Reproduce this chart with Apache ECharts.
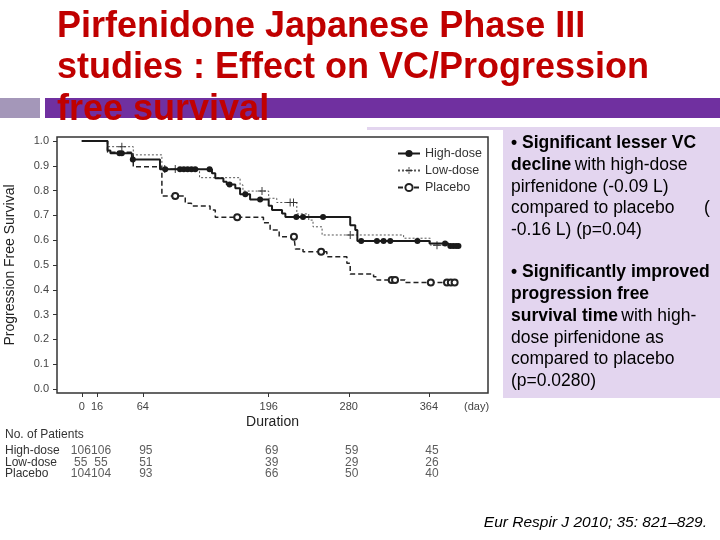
<!DOCTYPE html>
<html><head><meta charset="utf-8">
<script src="https://cdn.jsdelivr.net/npm/echarts@6/dist/echarts.min.js"></script>
<style>html,body{margin:0;padding:0;background:#fff}#c{width:720px;height:540px}</style>
</head><body><div id="c"></div>
<script>
// ---------- data ----------
const groupNames = ['High-dose', 'Low-dose', 'Placebo'];

// [day, survival after step]
const highDoseEvents = [[0,1],[27,0.962],[30,0.95],[52.5,0.925],[82,0.886],[136.5,0.87],[140,0.85],[148.5,0.836],[152,0.825],[161,0.809],[166,0.785],[176.5,0.764],[196,0.739],[199.5,0.722],[210,0.708],[213.5,0.694],[281.5,0.66],[286.8,0.641],[289,0.597],[364.7,0.587],[384.7,0.577]];
const highDoseCensored = [39.5,42,53.5,87.5,103,107,111,115,119,134,155,171.5,187,225,232,253,293,309.5,316.5,323.5,352,381,386.5,389.5,392.5,395];
const highDoseEnd = 395;

const lowDoseEvents = [[0,1],[27,0.977],[54,0.944],[84,0.887],[123.5,0.852],[166,0.823],[169,0.798],[196,0.769],[204.5,0.752],[225.5,0.706],[238,0.681],[242.5,0.654],[252,0.621],[337.5,0.608],[365.5,0.58]];
const lowDoseCensored = [42,87,98,189,218.5,222,281.5,372.5];
const lowDoseEnd = 381;

const placeboEvents = [[0,1],[27,0.955],[54,0.896],[84,0.778],[108.5,0.749],[115,0.738],[134.5,0.722],[140,0.692],[190.5,0.67],[197.5,0.641],[207,0.614],[224,0.565],[232,0.553],[257,0.533],[278,0.507],[281.5,0.464],[306,0.453],[309.5,0.44],[339,0.429]];
const placeboCensored = [98,163,222.5,251,325,328.5,366,383,387,391];
const placeboEnd = 391;

const xTickDays = [0,16,64,196,280,364];
const yTicks = [0,0.1,0.2,0.3,0.4,0.5,0.6,0.7,0.8,0.9,1.0];

const atRiskHigh = [106,106,95,69,59,45];
const atRiskLow = [55,55,51,39,29,26];
const atRiskPlacebo = [104,104,93,66,50,40];

// ---------- helpers ----------
function stepValue(events, d) {
  let v = events[0][1];
  for (const [t, s] of events) { if (t <= d) v = s; }
  return v;
}
function buildData(events, censors, endDay) {
  const pts = events.map(([t, s]) => ({ value: [t, s], symbol: 'none' }));
  censors.forEach(d => pts.push({ value: [d, stepValue(events, d)] }));
  if (!censors.includes(endDay)) pts.push({ value: [endDay, stepValue(events, endDay)], symbol: 'none' });
  pts.sort((a, b) => a.value[0] - b.value[0]);
  return pts;
}

const FONT = '"Liberation Sans", Arial, sans-serif';
const dayUnitPos = 414;
const labelNudge = [-1, 4, 3, 3, 3, 3];

const atRiskRows = [atRiskHigh, atRiskLow, atRiskPlacebo];
const atRiskData = [];
atRiskRows.forEach((row, i) => row.forEach((n, j) => {
  atRiskData.push({ value: [xTickDays[j], groupNames[i], n], label: { offset: [labelNudge[j], 0] } });
}));

const chart = echarts.init(document.getElementById('c'), null, { renderer: 'canvas' });

const richBox = {
  b: { fontWeight: 'bold', fontSize: 17.5, fontFamily: FONT, color: '#000' },
  n: { fontWeight: 'normal', fontSize: 17.5, fontFamily: FONT, color: '#000' }
};
const boxLines = [
  ['{b|• Significant lesser VC}', 143],
  ['{b|decline} {n|with high-dose}', 165],
  ['{n|pirfenidone (-0.09 L)}', 187],
  ['{n|compared to placebo}', 208],
  ['{n|-0.16 L) (p=0.04)}', 230],
  ['{b|• Significantly improved}', 272],
  ['{b|progression free}', 294],
  ['{b|survival time} {n|with high-}', 316],
  ['{n|dose pirfenidone as}', 338],
  ['{n|compared to placebo}', 359],
  ['{n|(p=0.0280)}', 381]
];

const graphics = [
  { type: 'rect', z: -2, shape: { x: 367, y: 127, width: 353, height: 271 }, style: { fill: '#E3D5EF' }, silent: true },
  { type: 'rect', z: -1, shape: { x: 0, y: 130, width: 503, height: 370 }, style: { fill: '#ffffff' }, silent: true },
  { type: 'rect', z: -1, shape: { x: 0, y: 98, width: 40, height: 20 }, style: { fill: '#A497B9' }, silent: true },
  { type: 'rect', z: -1, shape: { x: 45, y: 98, width: 675, height: 20 }, style: { fill: '#7030A0' }, silent: true },
  { type: 'text', z: 10, x: 57, y: 27, style: { text: 'Pirfenidone Japanese Phase III', fill: '#C00000', font: 'bold 36px ' + FONT, textVerticalAlign: 'middle' } },
  { type: 'text', z: 10, x: 57, y: 68, style: { text: 'studies : Effect on VC/Progression', fill: '#C00000', font: 'bold 36px ' + FONT, textVerticalAlign: 'middle' } },
  { type: 'text', z: 10, x: 57, y: 110, style: { text: 'free survival', fill: '#C00000', font: 'bold 36px ' + FONT, textVerticalAlign: 'middle' } },
  { type: 'text', z: 10, x: 704, y: 208, style: { text: '(', fill: '#000', font: '17.5px ' + FONT, textVerticalAlign: 'middle' } },
  { type: 'text', z: 10, x: 5, y: 435, style: { text: 'No. of Patients', fill: '#333', font: '12px ' + FONT, textVerticalAlign: 'middle' } },
  { type: 'text', z: 10, x: 707, y: 523, style: { text: 'Eur Respir J 2010; 35: 821–829.', fill: '#000', font: 'italic 15.5px ' + FONT, textAlign: 'right', textVerticalAlign: 'middle' } }
];
boxLines.forEach(([t, y]) => graphics.push({
  type: 'text', z: 10, x: 511, y: y,
  style: { text: t, rich: richBox, textVerticalAlign: 'middle' }
}));

const option = {
  animation: false,
  backgroundColor: '#ffffff',
  textStyle: { fontFamily: FONT },
  graphic: graphics,
  legend: {
    data: groupNames,
    orient: 'vertical',
    left: 397, top: 146,
    padding: 0,
    itemWidth: 22, itemHeight: 9, itemGap: 2,
    textStyle: { fontSize: 12.5, color: '#333', lineHeight: 15, fontFamily: FONT },
    selectedMode: false, z: 8
  },
  grid: [
    { left: 57, top: 137, right: 232, bottom: 147, show: true, borderColor: '#333', borderWidth: 1.5, backgroundColor: 'transparent', z: 3, containLabel: false, outerBoundsMode: 'none' },
    { left: 57, top: 445, right: 232, height: 35, show: false, containLabel: false, outerBoundsMode: 'none' }
  ],
  xAxis: [
    {
      type: 'value', gridIndex: 0, min: -26, max: 426, z: 5, position: 'bottom',
      axisLine: { show: false, onZero: false },
      splitLine: { show: false },
      axisTick: { show: true, customValues: xTickDays, length: 4, lineStyle: { color: '#333' } },
      axisLabel: {
        customValues: xTickDays.concat([dayUnitPos]),
        formatter: v => (v === dayUnitPos ? '(day)' : String(v)),
        fontSize: 11, color: '#444', margin: 8, fontFamily: FONT
      },
      name: 'Duration', nameLocation: 'middle', nameGap: 22,
      nameTextStyle: { fontSize: 14, color: '#222', fontFamily: FONT }
    },
    { type: 'value', gridIndex: 1, min: -26, max: 426, show: false }
  ],
  yAxis: [
    {
      type: 'value', gridIndex: 0, min: -0.016, max: 1.016, z: 5, position: 'left',
      axisLine: { show: false, onZero: false },
      splitLine: { show: false },
      axisTick: { show: true, customValues: yTicks, length: 4, lineStyle: { color: '#333' } },
      axisLabel: { customValues: yTicks, formatter: v => v.toFixed(1), fontSize: 11, color: '#444', margin: 8, fontFamily: FONT },
      name: 'Progression Free Survival', nameLocation: 'middle', nameGap: 40,
      nameTextStyle: { fontSize: 14, color: '#222', fontFamily: FONT }
    },
    {
      type: 'category', gridIndex: 1, data: groupNames, inverse: true, z: 5,
      axisLine: { show: false, onZero: false }, axisTick: { show: false }, splitLine: { show: false },
      axisLabel: { align: 'left', margin: 52, interval: 0, fontSize: 12, color: '#333', fontFamily: FONT }
    }
  ],
  series: [
    {
      name: 'High-dose', type: 'line', step: 'end', xAxisIndex: 0, yAxisIndex: 0,
      data: buildData(highDoseEvents, highDoseCensored, highDoseEnd),
      symbol: 'circle', symbolSize: 6, showAllSymbol: true, silent: true, z: 6,
      lineStyle: { color: '#1a1a1a', width: 2 },
      itemStyle: { color: '#1a1a1a' },
      emphasis: { disabled: true }
    },
    {
      name: 'Low-dose', type: 'line', step: 'end', xAxisIndex: 0, yAxisIndex: 0,
      data: buildData(lowDoseEvents, lowDoseCensored, lowDoseEnd),
      symbol: 'path://M4.4,0H5.6V4.4H10V5.6H5.6V10H4.4V5.6H0V4.4H4.4Z', symbolSize: 8, showAllSymbol: true, silent: true, z: 5,
      lineStyle: { color: '#555', width: 1, type: [2, 2] },
      itemStyle: { color: '#333' },
      emphasis: { disabled: true }
    },
    {
      name: 'Placebo', type: 'line', step: 'end', xAxisIndex: 0, yAxisIndex: 0,
      data: buildData(placeboEvents, placeboCensored, placeboEnd),
      symbol: 'emptyCircle', symbolSize: 6, showAllSymbol: true, silent: true, z: 4,
      lineStyle: { color: '#222', width: 1.5, type: [5, 3] },
      itemStyle: { color: '#222', borderWidth: 1 },
      emphasis: { disabled: true }
    },
    {
      type: 'scatter', xAxisIndex: 1, yAxisIndex: 1, silent: true,
      data: atRiskData,
      symbol: 'rect', symbolSize: 1,
      itemStyle: { color: 'rgba(0,0,0,0)' },
      label: { show: true, position: 'inside', formatter: p => String(p.value[2]), fontSize: 12, color: '#333', fontFamily: FONT }
    }
  ]
};
chart.setOption(option);
</script>
</body></html>
